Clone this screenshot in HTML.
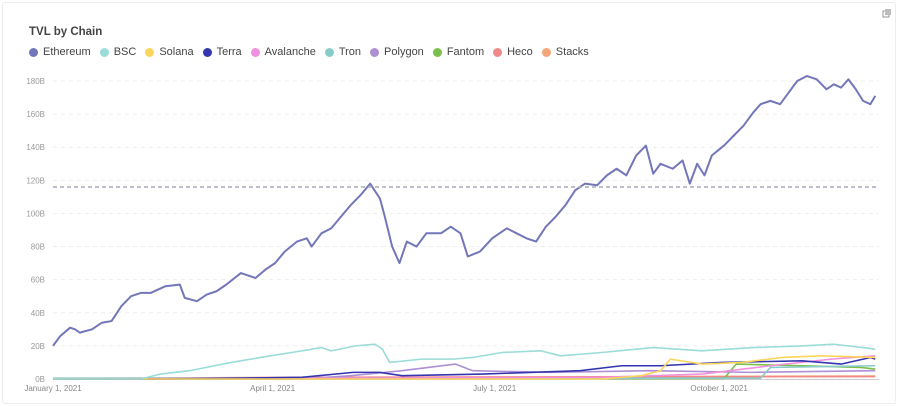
<!DOCTYPE html>
<html><head><meta charset="utf-8"><style>
body{margin:0;background:#fff;font-family:"Liberation Sans",sans-serif;}
#card{position:absolute;left:2px;top:2px;width:892px;height:400px;border:1px solid #ececec;border-radius:3px;background:#fff;}
#title{position:absolute;left:26px;top:23px;font-size:11.5px;font-weight:bold;color:#444;}
#legend{position:absolute;left:26px;top:43px;font-size:11px;color:#444;display:flex;}
.li{display:flex;align-items:center;margin-right:9px;}
.dot{width:9px;height:9px;border-radius:50%;margin-right:5px;}
</style></head><body>
<div id="card">
<div id="title">TVL by Chain</div>
<div id="legend"></div>
<svg id="chart" width="897" height="405" style="position:absolute;left:-2px;top:-2px">
<g><rect x="882" y="10" width="6" height="6" fill="none" stroke="#999" stroke-width="1"/><rect x="884" y="8" width="6" height="6" fill="#bbb"/></g>
</svg>
</div>
<script>
const names=["Ethereum","BSC","Solana","Terra","Avalanche","Tron","Polygon","Fantom","Heco","Stacks"];
const colors=["#7376b8","#9adcd8","#fbd55c","#3535b0","#f08fdd","#89cbc8","#ad8fd4","#7ac04a","#f0888a","#f5a676"];
const yTicks=[0,20,40,60,80,100,120,140,160,180];
const xTickDays=[0,90,181,273];
const xTickLabels=["January 1, 2021","April 1, 2021","July 1, 2021","October 1, 2021"];
const refValue=116;
const ethDays=[0,3,7,9,11,16,20,24,28,32,36,40,46,52,54,59,63,67,71,77,83,87,91,95,100,104,106,110,114,118,122,126,130,134,136,139,142,145,149,153,159,163,167,170,175,180,186,190,194,198,202,206,210,214,218,223,227,231,235,239,243,246,249,254,258,261,264,267,270,275,279,283,287,290,294,298,302,305,309,313,317,320,323,326,329,332,335,337];
const ethVals=[20,26,31,30,28,30,34,35,44,50,52,52,56,57,49,47,51,53,57,64,61,66,70,77,83,85,80,88,91,98,105,111,118,109,98,80,70,83,80,88,88,92,88,74,77,85,91,88,85,83,92,98,105,114,118,117,123,127,123,135,141,124,130,127,132,118,130,123,135,141,147,153,161,166,168,166,174,180,183,181,175,178,176,181,175,168,166,171];
const bscDays=[0,36,44,56,73,89,102,110,114,124,132,135,138,151,164,172,184,200,208,225,246,266,287,307,320,332,337];
const bscVals=[0,0,3,5,10,14,17,19,17,20,21,18,10,12,12,13,16,17,14,16,19,17,19,20,21,19,18];
const solDays=[0,225,241,249,253,266,282,299,315,337];
const solVals=[0,0,2,5,12,9,10,13,14,13];
const terraDays=[0,48,102,123,134,143,176,216,233,249,274,307,323,335,337];
const terraVals=[0,0,1,4,4,2,3,5,8,8,10,11,9,13,12];
const avaxDays=[0,225,266,294,319,337];
const avaxVals=[0,1,3,8,12,14];
const tronDays=[0,290,294,337];
const tronVals=[0.5,0.5,7,8];
const polyDays=[0,102,122,143,165,172,204,245,286,337];
const polyVals=[0,0,2,5,9,5,4,5,4,5];
const ftmDays=[0,275,280,307,331,337];
const ftmVals=[0,0.3,9,8,7,6];
const hecoDays=[0,100,337];
const hecoVals=[0.3,1,1.5];
const stxDays=[0,150,337];
const stxVals=[0.2,1,1.8];
const series=[[ethDays,ethVals],[bscDays,bscVals],[solDays,solVals],[terraDays,terraVals],[avaxDays,avaxVals],[tronDays,tronVals],[polyDays,polyVals],[ftmDays,ftmVals],[hecoDays,hecoVals],[stxDays,stxVals]];

const NS="http://www.w3.org/2000/svg";
const svg=document.getElementById('chart');
const X=d=>52+d*2.44;
const Y=v=>378-v*(298/180);
function mk(t,a){const e=document.createElementNS(NS,t);for(const k in a)e.setAttribute(k,a[k]);svg.appendChild(e);return e;}
yTicks.forEach(v=>{
 const g=mk('line',{x1:52,x2:878,y1:Y(v),y2:Y(v),stroke:'#eee','stroke-dasharray':'4,4'});
 
 
 const t=mk('text',{x:44,y:Y(v)+3,'text-anchor':'end','font-size':'8','fill':'#999'});
 t.textContent=v+'B';
 
 
});
const ax=mk('line',{x1:52,x2:878,y1:378.5,y2:378.5,stroke:'#ccc'});


xTickDays.forEach((d,i)=>{
 const t=mk('text',{x:X(d),y:390,'text-anchor':'middle','font-size':'8','fill':'#888'});
 t.textContent=xTickLabels[i];
 
 
});
for(let i=series.length-1;i>=0;i--){
 const [ds,vs]=series[i];
 const p=mk('polyline',{points:ds.map((d,j)=>X(d)+','+Y(vs[j])).join(' '),fill:'none',stroke:colors[i],'stroke-width':i==0?2:1.6,'stroke-linejoin':'round'});
 
 
}
const r=mk('line',{x1:52,x2:878,y1:Y(refValue),y2:Y(refValue),stroke:'#aab','stroke-width':1.5,'stroke-dasharray':'4,3'});


const lg=document.getElementById('legend');
names.forEach((n,i)=>{
 const d=document.createElement('div');d.className='li';
 
 
 d.innerHTML='<span class="dot" style="background:'+colors[i]+'"></span>'+n;
 lg.appendChild(d);
});
</script>
</body></html>
